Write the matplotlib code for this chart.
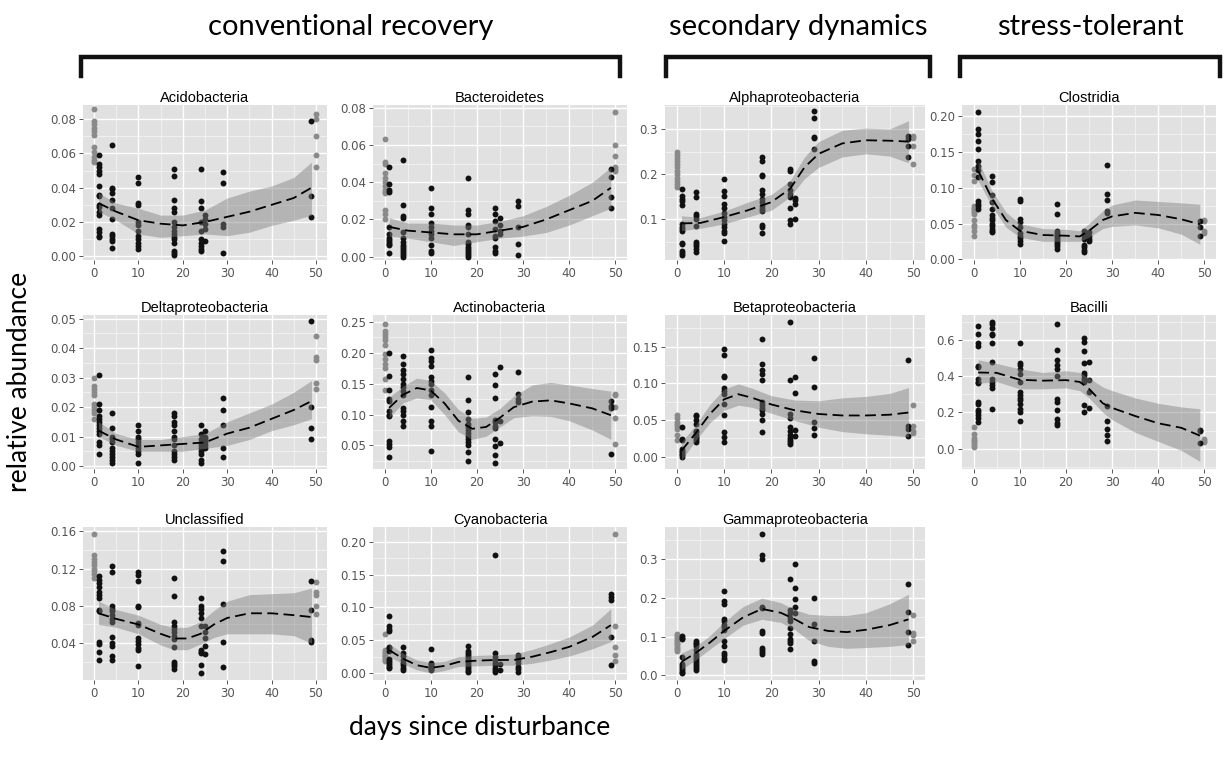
import numpy as np
import matplotlib
matplotlib.use("Agg")
import matplotlib.pyplot as plt
from matplotlib.ticker import MultipleLocator

# sampling days of the black points (day 0 and day 50 are the grey controls)
DAYS = [1, 4, 10, 18, 24, 25, 29, 49]

# ---------------- Acidobacteria ----------------
acido_gray0 = [0.086, 0.079, 0.077, 0.075, 0.073, 0.071, 0.064, 0.061, 0.058, 0.056, 0.055]
acido_gray50 = [0.083, 0.080, 0.070, 0.059, 0.052]
acido_black = [
    [0.059, 0.054, 0.052, 0.050, 0.048, 0.041, 0.036, 0.035, 0.030, 0.029, 0.026, 0.024, 0.016, 0.014, 0.012, 0.011],
    [0.065, 0.040, 0.039, 0.037, 0.033, 0.028, 0.022, 0.013, 0.012, 0.010, 0.009, 0.005],
    [0.046, 0.043, 0.031, 0.030, 0.020, 0.018, 0.015, 0.012, 0.010, 0.008, 0.006, 0.004],
    [0.051, 0.047, 0.033, 0.028, 0.026, 0.020, 0.017, 0.015, 0.013, 0.011, 0.010, 0.008, 0.003, 0.002, 0.001],
    [0.051, 0.032, 0.028, 0.020, 0.015, 0.010, 0.008, 0.006, 0.004, 0.003],
    [0.024, 0.022, 0.019, 0.016, 0.009],
    [0.049, 0.043, 0.019, 0.017, 0.002],
    [0.079, 0.035, 0.023],
]
acido_fit_x = [1, 5, 10, 15, 20, 25, 30, 35, 40, 45, 49]
acido_fit = [0.031, 0.026, 0.021, 0.019, 0.018, 0.020, 0.023, 0.026, 0.030, 0.034, 0.040]
acido_lo = [0.026, 0.021, 0.013, 0.011, 0.012, 0.013, 0.012, 0.014, 0.018, 0.021, 0.024]
acido_hi = [0.037, 0.031, 0.028, 0.024, 0.024, 0.027, 0.034, 0.038, 0.041, 0.046, 0.055]

# ---------------- Bacteroidetes ----------------
bacte_gray0 = [0.063, 0.051, 0.050, 0.045, 0.042, 0.040, 0.038, 0.036, 0.035, 0.034, 0.025, 0.023, 0.020]
bacte_gray50 = [0.078, 0.060, 0.054, 0.048, 0.047, 0.046]
bacte_black = [
    [0.048, 0.039, 0.036, 0.035, 0.016, 0.012, 0.010, 0.009, 0.008, 0.007, 0.006, 0.002],
    [0.052, 0.028, 0.022, 0.021, 0.013, 0.010, 0.008, 0.006, 0.005, 0.004, 0.003, 0.002, 0.001, 0.000],
    [0.037, 0.026, 0.023, 0.018, 0.016, 0.014, 0.012, 0.010, 0.006, 0.003, 0.002],
    [0.042, 0.025, 0.023, 0.017, 0.016, 0.012, 0.008, 0.007, 0.005, 0.004, 0.003, 0.002, 0.001, 0.000],
    [0.026, 0.023, 0.019, 0.015, 0.011, 0.010, 0.005, 0.003, 0.002],
    [0.021, 0.017, 0.014, 0.012],
    [0.030, 0.027, 0.016, 0.007, 0.001],
    [0.047, 0.043, 0.032, 0.026],
]
bacte_fit_x = [1, 5, 10, 15, 20, 25, 30, 35, 40, 45, 49]
bacte_fit = [0.016, 0.014, 0.013, 0.012, 0.012, 0.014, 0.016, 0.020, 0.025, 0.030, 0.037]
bacte_lo = [0.011, 0.010, 0.008, 0.006, 0.008, 0.010, 0.011, 0.013, 0.017, 0.022, 0.026]
bacte_hi = [0.021, 0.018, 0.018, 0.017, 0.017, 0.019, 0.022, 0.027, 0.033, 0.040, 0.048]

# ---------------- Alphaproteobacteria ----------------
alpha_gray0 = [0.248, 0.242, 0.235, 0.228, 0.222, 0.215, 0.208, 0.200, 0.192, 0.185, 0.178, 0.172]
alpha_gray50 = [0.284, 0.280, 0.262, 0.222]
alpha_black = [
    [0.168, 0.152, 0.145, 0.140, 0.132, 0.090, 0.082, 0.078, 0.075, 0.048, 0.045, 0.030, 0.025, 0.021],
    [0.160, 0.150, 0.112, 0.108, 0.100, 0.086, 0.050, 0.045, 0.040, 0.035, 0.028],
    [0.190, 0.162, 0.152, 0.135, 0.125, 0.115, 0.105, 0.098, 0.090, 0.082, 0.075, 0.070, 0.052],
    [0.238, 0.228, 0.198, 0.195, 0.165, 0.155, 0.145, 0.138, 0.130, 0.122, 0.118, 0.088, 0.082, 0.070],
    [0.212, 0.208, 0.178, 0.165, 0.155, 0.150, 0.125, 0.098, 0.090],
    [0.148, 0.142, 0.135, 0.100],
    [0.340, 0.325, 0.283, 0.280, 0.255],
    [0.285, 0.278, 0.262, 0.237],
]
alpha_fit_x = [1, 5, 10, 15, 20, 24, 27, 30, 35, 40, 45, 49]
alpha_fit = [0.091, 0.092, 0.105, 0.120, 0.138, 0.168, 0.215, 0.245, 0.268, 0.275, 0.274, 0.272]
alpha_lo = [0.075, 0.080, 0.090, 0.105, 0.120, 0.150, 0.190, 0.215, 0.238, 0.245, 0.240, 0.225]
alpha_hi = [0.108, 0.104, 0.118, 0.138, 0.155, 0.186, 0.238, 0.272, 0.297, 0.302, 0.300, 0.318]

# ---------------- Clostridia ----------------
clost_gray0 = [0.127, 0.118, 0.110, 0.075, 0.072, 0.070, 0.068, 0.066, 0.063, 0.055, 0.048, 0.045, 0.040, 0.033]
clost_gray50 = [0.055, 0.053, 0.040, 0.037]
clost_black = [
    [0.206, 0.182, 0.175, 0.165, 0.155, 0.137, 0.130, 0.125, 0.115, 0.082, 0.078, 0.075, 0.070],
    [0.116, 0.108, 0.090, 0.080, 0.070, 0.062, 0.058, 0.055, 0.050, 0.047, 0.043, 0.040, 0.038],
    [0.085, 0.081, 0.057, 0.052, 0.045, 0.037, 0.033, 0.030, 0.026, 0.022],
    [0.078, 0.064, 0.040, 0.037, 0.034, 0.032, 0.030, 0.027, 0.024, 0.022, 0.018, 0.015],
    [0.040, 0.036, 0.032, 0.028, 0.020, 0.017, 0.013, 0.010],
    [0.038, 0.032, 0.028, 0.025],
    [0.132, 0.091, 0.083, 0.068, 0.065],
    [0.054, 0.045, 0.032],
]
clost_fit_x = [1, 4, 7, 10, 15, 20, 23, 25, 28, 30, 35, 40, 45, 49]
clost_fit = [0.124, 0.085, 0.055, 0.040, 0.034, 0.033, 0.032, 0.040, 0.055, 0.060, 0.065, 0.062, 0.056, 0.049]
clost_lo = [0.110, 0.074, 0.045, 0.031, 0.025, 0.025, 0.025, 0.031, 0.043, 0.046, 0.048, 0.044, 0.035, 0.021]
clost_hi = [0.138, 0.096, 0.066, 0.050, 0.043, 0.042, 0.040, 0.050, 0.068, 0.076, 0.083, 0.081, 0.079, 0.077]

# ---------------- Deltaproteobacteria ----------------
delta_gray0 = [0.030, 0.027, 0.026, 0.025, 0.024, 0.021, 0.020, 0.019, 0.018, 0.016]
delta_gray50 = [0.044, 0.037, 0.036, 0.028, 0.026]
delta_black = [
    [0.031, 0.021, 0.019, 0.017, 0.016, 0.015, 0.014, 0.013, 0.012, 0.011, 0.008, 0.007, 0.004],
    [0.018, 0.013, 0.010, 0.009, 0.008, 0.006, 0.005, 0.004, 0.003, 0.002, 0.001],
    [0.014, 0.012, 0.010, 0.009, 0.008, 0.007, 0.006, 0.005, 0.004, 0.001],
    [0.018, 0.017, 0.015, 0.014, 0.012, 0.010, 0.009, 0.007, 0.005, 0.004, 0.003, 0.002],
    [0.014, 0.011, 0.009, 0.008, 0.007, 0.006, 0.005, 0.004, 0.002, 0.001],
    [0.012, 0.010, 0.009, 0.008, 0.007, 0.006],
    [0.023, 0.019, 0.014, 0.006, 0.003],
    [0.049, 0.020, 0.013, 0.009],
]
delta_fit_x = [1, 5, 10, 15, 20, 25, 30, 35, 40, 45, 49]
delta_fit = [0.012, 0.009, 0.0065, 0.007, 0.0075, 0.008, 0.011, 0.013, 0.016, 0.019, 0.022]
delta_lo = [0.010, 0.007, 0.005, 0.005, 0.005, 0.006, 0.007, 0.009, 0.012, 0.014, 0.016]
delta_hi = [0.015, 0.011, 0.009, 0.009, 0.010, 0.011, 0.015, 0.018, 0.021, 0.025, 0.029]

# ---------------- Actinobacteria ----------------
actino_gray0 = [0.246, 0.235, 0.230, 0.225, 0.220, 0.212, 0.198, 0.190, 0.182, 0.176, 0.158, 0.140]
actino_gray50 = [0.134, 0.131, 0.113, 0.095, 0.052]
actino_black = [
    [0.200, 0.162, 0.140, 0.125, 0.122, 0.105, 0.100, 0.098, 0.057, 0.053, 0.048, 0.031],
    [0.195, 0.182, 0.172, 0.165, 0.158, 0.150, 0.145, 0.138, 0.132, 0.110, 0.105, 0.100, 0.090, 0.082],
    [0.204, 0.192, 0.186, 0.178, 0.160, 0.155, 0.150, 0.140, 0.132, 0.112, 0.090, 0.082, 0.041],
    [0.161, 0.124, 0.104, 0.093, 0.085, 0.080, 0.075, 0.070, 0.065, 0.060, 0.055, 0.050, 0.039, 0.025],
    [0.166, 0.148, 0.126, 0.092, 0.088, 0.082, 0.078, 0.060, 0.049, 0.035, 0.022],
    [0.177, 0.090, 0.054],
    [0.169, 0.134, 0.125, 0.120],
    [0.122, 0.114, 0.110, 0.037],
]
actino_fit_x = [1, 4, 7, 10, 13, 16, 19, 22, 25, 28, 32, 36, 40, 45, 49]
actino_fit = [0.111, 0.132, 0.143, 0.139, 0.118, 0.090, 0.077, 0.080, 0.095, 0.112, 0.121, 0.123, 0.118, 0.110, 0.099]
actino_lo = [0.095, 0.119, 0.127, 0.124, 0.100, 0.072, 0.060, 0.065, 0.080, 0.095, 0.098, 0.097, 0.090, 0.075, 0.060]
actino_hi = [0.128, 0.146, 0.159, 0.155, 0.135, 0.108, 0.094, 0.096, 0.110, 0.130, 0.148, 0.152, 0.148, 0.142, 0.138]

# ---------------- Betaproteobacteria ----------------
beta_gray0 = [0.056, 0.052, 0.047, 0.044, 0.041, 0.038, 0.030, 0.022]
beta_gray50 = [0.070, 0.041, 0.035, 0.032]
beta_black = [
    [0.040, 0.024, 0.022, 0.010, 0.008, 0.006, 0.004, 0.002, 0.000],
    [0.057, 0.055, 0.050, 0.045, 0.035, 0.033, 0.030, 0.027, 0.025, 0.022, 0.020],
    [0.147, 0.138, 0.110, 0.108, 0.093, 0.090, 0.085, 0.072, 0.057, 0.034, 0.026, 0.020],
    [0.160, 0.126, 0.118, 0.113, 0.105, 0.075, 0.070, 0.066, 0.063, 0.058, 0.050, 0.033],
    [0.184, 0.104, 0.058, 0.052, 0.040, 0.035, 0.030, 0.025, 0.022, 0.020, 0.017],
    [0.108, 0.086, 0.036, 0.028],
    [0.135, 0.095, 0.047, 0.039, 0.029],
    [0.132, 0.042, 0.038, 0.028],
]
beta_fit_x = [1, 4, 7, 10, 13, 16, 20, 25, 30, 35, 40, 45, 49]
beta_fit = [0.008, 0.032, 0.058, 0.078, 0.085, 0.080, 0.071, 0.063, 0.058, 0.056, 0.056, 0.057, 0.060]
beta_lo = [-0.005, 0.022, 0.046, 0.063, 0.070, 0.067, 0.059, 0.049, 0.040, 0.034, 0.031, 0.029, 0.027]
beta_hi = [0.020, 0.043, 0.071, 0.092, 0.099, 0.093, 0.083, 0.077, 0.076, 0.080, 0.082, 0.086, 0.094]

# ---------------- Bacilli ----------------
bacil_gray0 = [0.12, 0.08, 0.06, 0.05, 0.04, 0.03, 0.02, 0.01]
bacil_gray50 = [0.055, 0.045, 0.035]
bacil_black = [
    [0.675, 0.635, 0.585, 0.565, 0.455, 0.450, 0.385, 0.370, 0.360, 0.260, 0.245, 0.215, 0.200, 0.185, 0.170, 0.145],
    [0.700, 0.685, 0.665, 0.635, 0.625, 0.580, 0.480, 0.385, 0.370, 0.350, 0.335, 0.220],
    [0.585, 0.475, 0.460, 0.440, 0.410, 0.370, 0.310, 0.295, 0.280, 0.270, 0.245, 0.220, 0.200, 0.150],
    [0.685, 0.545, 0.490, 0.460, 0.440, 0.400, 0.275, 0.260, 0.215, 0.165, 0.140, 0.130],
    [0.610, 0.590, 0.540, 0.470, 0.420, 0.405, 0.390, 0.380, 0.370, 0.240, 0.200],
    [0.480, 0.380, 0.310, 0.225],
    [0.235, 0.150, 0.110, 0.075, 0.040],
    [0.105, 0.095, 0.030],
]
bacil_fit_x = [1, 5, 10, 15, 20, 23, 25, 28, 30, 35, 40, 45, 49]
bacil_fit = [0.420, 0.418, 0.380, 0.375, 0.378, 0.368, 0.330, 0.250, 0.225, 0.180, 0.140, 0.115, 0.072]
bacil_lo = [0.360, 0.370, 0.330, 0.330, 0.335, 0.320, 0.280, 0.200, 0.160, 0.090, 0.040, -0.010, -0.070]
bacil_hi = [0.490, 0.470, 0.440, 0.420, 0.430, 0.420, 0.390, 0.340, 0.320, 0.280, 0.250, 0.230, 0.220]

# ---------------- Unclassified ----------------
uncl_gray0 = [0.157, 0.134, 0.130, 0.127, 0.124, 0.120, 0.117, 0.114, 0.110]
uncl_gray50 = [0.106, 0.095, 0.092, 0.080, 0.071]
uncl_black = [
    [0.112, 0.108, 0.104, 0.100, 0.095, 0.092, 0.088, 0.075, 0.074, 0.041, 0.039, 0.031, 0.022],
    [0.123, 0.116, 0.080, 0.077, 0.074, 0.070, 0.066, 0.063, 0.047, 0.040, 0.037, 0.026, 0.022],
    [0.116, 0.113, 0.107, 0.080, 0.079, 0.062, 0.059, 0.046, 0.042, 0.039, 0.035, 0.033, 0.015],
    [0.110, 0.091, 0.063, 0.058, 0.055, 0.052, 0.048, 0.044, 0.036, 0.020, 0.018, 0.016, 0.012],
    [0.088, 0.080, 0.077, 0.072, 0.067, 0.058, 0.033, 0.031, 0.029, 0.017, 0.008],
    [0.058, 0.052, 0.046, 0.037, 0.028],
    [0.139, 0.128, 0.082, 0.041, 0.014],
    [0.107, 0.075, 0.043, 0.041],
]
uncl_fit_x = [1, 5, 10, 15, 18, 21, 24, 27, 30, 35, 40, 45, 49]
uncl_fit = [0.072, 0.066, 0.060, 0.050, 0.045, 0.045, 0.050, 0.060, 0.067, 0.072, 0.072, 0.070, 0.068]
uncl_lo = [0.060, 0.057, 0.050, 0.038, 0.033, 0.033, 0.039, 0.046, 0.050, 0.050, 0.050, 0.048, 0.040]
uncl_hi = [0.085, 0.076, 0.070, 0.060, 0.057, 0.057, 0.063, 0.075, 0.085, 0.092, 0.093, 0.094, 0.099]

# ---------------- Cyanobacteria ----------------
cyano_gray0 = [0.060, 0.035, 0.032, 0.030, 0.028, 0.026, 0.024, 0.022, 0.020, 0.018]
cyano_gray50 = [0.212, 0.071, 0.040, 0.028, 0.018]
cyano_black = [
    [0.087, 0.071, 0.067, 0.064, 0.040, 0.038, 0.034, 0.022, 0.019, 0.016, 0.013, 0.010, 0.008],
    [0.040, 0.030, 0.026, 0.020, 0.016, 0.012, 0.008, 0.005],
    [0.036, 0.016, 0.014, 0.012, 0.010, 0.008, 0.006, 0.004],
    [0.042, 0.034, 0.030, 0.027, 0.024, 0.021, 0.018, 0.015, 0.012, 0.009, 0.006, 0.003, 0.001],
    [0.180, 0.030, 0.025, 0.020, 0.016, 0.012, 0.008, 0.005, 0.002],
    [0.014, 0.005],
    [0.028, 0.024, 0.020, 0.016, 0.010, 0.006, 0.002],
    [0.120, 0.116, 0.112, 0.055, 0.012],
]
cyano_fit_x = [1, 4, 7, 10, 13, 16, 20, 24, 28, 32, 36, 40, 45, 49]
cyano_fit = [0.035, 0.022, 0.012, 0.008, 0.011, 0.017, 0.019, 0.020, 0.020, 0.025, 0.032, 0.040, 0.055, 0.073]
cyano_lo = [0.025, 0.014, 0.005, 0.000, 0.004, 0.010, 0.011, 0.012, 0.012, 0.015, 0.020, 0.026, 0.037, 0.048]
cyano_hi = [0.045, 0.030, 0.020, 0.016, 0.018, 0.025, 0.027, 0.028, 0.029, 0.036, 0.045, 0.055, 0.073, 0.098]

# ---------------- Gammaproteobacteria ----------------
gamma_gray0 = [0.108, 0.104, 0.100, 0.096, 0.092, 0.088, 0.084, 0.080, 0.076, 0.072, 0.068, 0.064]
gamma_gray50 = [0.155, 0.110, 0.105, 0.088]
gamma_black = [
    [0.102, 0.098, 0.095, 0.048, 0.030, 0.025, 0.020, 0.015, 0.010, 0.006],
    [0.090, 0.085, 0.080, 0.075, 0.065, 0.055, 0.050, 0.045, 0.040, 0.035, 0.030, 0.025, 0.020, 0.015],
    [0.218, 0.192, 0.185, 0.145, 0.140, 0.130, 0.125, 0.118, 0.090, 0.075, 0.057, 0.052, 0.045, 0.040],
    [0.365, 0.312, 0.300, 0.178, 0.175, 0.115, 0.110, 0.072, 0.065, 0.060, 0.055],
    [0.250, 0.168, 0.162, 0.148, 0.142, 0.122, 0.108, 0.095, 0.090, 0.085, 0.068],
    [0.288, 0.227, 0.197, 0.178, 0.162],
    [0.201, 0.133, 0.090, 0.037, 0.033],
    [0.236, 0.165, 0.113, 0.078],
]
gamma_fit_x = [1, 4, 7, 10, 14, 18, 22, 25, 28, 32, 36, 40, 45, 49]
gamma_fit = [0.035, 0.058, 0.085, 0.115, 0.150, 0.172, 0.162, 0.145, 0.125, 0.115, 0.112, 0.118, 0.130, 0.145]
gamma_lo = [0.015, 0.040, 0.068, 0.095, 0.130, 0.145, 0.137, 0.118, 0.090, 0.075, 0.070, 0.072, 0.075, 0.080]
gamma_hi = [0.058, 0.075, 0.103, 0.138, 0.178, 0.200, 0.188, 0.170, 0.158, 0.155, 0.155, 0.162, 0.185, 0.210]


W, H = 1226, 758
COLS = [(83, 327), (373, 627), (665, 925), (962, 1216)]
ROWS = [(105, 260), (315, 469), (527, 680)]

panels = [
    # title, row, col, gray0, gray50, black, fit_x, fit, lo, hi, ylim, yticks, fmt
    ("Acidobacteria", 0, 0, acido_gray0, acido_gray50, acido_black, acido_fit_x, acido_fit, acido_lo, acido_hi,
     (-0.0022, 0.0883), [0, 0.02, 0.04, 0.06, 0.08], "%.2f"),
    ("Bacteroidetes", 0, 1, bacte_gray0, bacte_gray50, bacte_black, bacte_fit_x, bacte_fit, bacte_lo, bacte_hi,
     (-0.0018, 0.0815), [0, 0.02, 0.04, 0.06, 0.08], "%.2f"),
    ("Alphaproteobacteria", 0, 2, alpha_gray0, alpha_gray50, alpha_black, alpha_fit_x, alpha_fit, alpha_lo, alpha_hi,
     (0.010, 0.353), [0.1, 0.2, 0.3], "%.1f"),
    ("Clostridia", 0, 3, clost_gray0, clost_gray50, clost_black, clost_fit_x, clost_fit, clost_lo, clost_hi,
     (-0.001, 0.216), [0, 0.05, 0.10, 0.15, 0.20], "%.2f"),
    ("Deltaproteobacteria", 1, 0, delta_gray0, delta_gray50, delta_black, delta_fit_x, delta_fit, delta_lo, delta_hi,
     (-0.001, 0.0512), [0, 0.01, 0.02, 0.03, 0.04, 0.05], "%.2f"),
    ("Actinobacteria", 1, 1, actino_gray0, actino_gray50, actino_black, actino_fit_x, actino_fit, actino_lo, actino_hi,
     (0.012, 0.261), [0.05, 0.10, 0.15, 0.20, 0.25], "%.2f"),
    ("Betaproteobacteria", 1, 2, beta_gray0, beta_gray50, beta_black, beta_fit_x, beta_fit, beta_lo, beta_hi,
     (-0.017, 0.193), [0, 0.05, 0.10, 0.15], "%.2f"),
    ("Bacilli", 1, 3, bacil_gray0, bacil_gray50, bacil_black, bacil_fit_x, bacil_fit, bacil_lo, bacil_hi,
     (-0.112, 0.737), [0, 0.2, 0.4, 0.6], "%.1f"),
    ("Unclassified", 2, 0, uncl_gray0, uncl_gray50, uncl_black, uncl_fit_x, uncl_fit, uncl_lo, uncl_hi,
     (0.0005, 0.1645), [0.04, 0.08, 0.12, 0.16], "%.2f"),
    ("Cyanobacteria", 2, 1, cyano_gray0, cyano_gray50, cyano_black, cyano_fit_x, cyano_fit, cyano_lo, cyano_hi,
     (-0.0105, 0.2225), [0, 0.05, 0.10, 0.15, 0.20], "%.2f"),
    ("Gammaproteobacteria", 2, 2, gamma_gray0, gamma_gray50, gamma_black, gamma_fit_x, gamma_fit, gamma_lo, gamma_hi,
     (-0.012, 0.384), [0, 0.1, 0.2, 0.3], "%.1f"),
]

fig = plt.figure(figsize=(W / 100, H / 100), dpi=100)
fig.patch.set_facecolor("white")

for (title, r, c, g0, g50, blk, fx, fy, flo, fhi, ylim, yticks, fmt) in panels:
    x0, x1 = COLS[c]
    y0, y1 = ROWS[r]
    ax = fig.add_axes([x0 / W, 1 - y1 / H, (x1 - x0) / W, (y1 - y0) / H])
    ax.set_facecolor("#e1e1e1")
    for s in ax.spines.values():
        s.set_visible(False)
    ax.set_xlim(-2.5, 52.5)
    ax.set_ylim(*ylim)
    ax.set_xticks([0, 10, 20, 30, 40, 50])
    ax.xaxis.set_minor_locator(MultipleLocator(5))
    ax.set_yticks(yticks)
    ystep = yticks[1] - yticks[0]
    ax.yaxis.set_minor_locator(MultipleLocator(ystep / 2))
    ax.yaxis.set_major_formatter(matplotlib.ticker.FormatStrFormatter(fmt))
    ax.grid(which="major", color="white", linewidth=1.0)
    ax.grid(which="minor", color="white", linewidth=0.5, alpha=0.7)
    ax.set_axisbelow(True)
    ax.tick_params(which="major", length=3, width=0.7, color="#555555", labelsize=8.5,
                   labelcolor="#555555", pad=2)
    ax.tick_params(which="minor", length=0)

    # grey controls
    ax.scatter([0] * len(g0), g0, s=18, color="#8a8a8a", zorder=3, linewidths=0)
    ax.scatter([50] * len(g50), g50, s=18, color="#8a8a8a", zorder=3, linewidths=0)
    # black samples
    for d, vals in zip(DAYS, blk):
        ax.scatter([d] * len(vals), vals, s=18, color="#111111", zorder=3, linewidths=0)

    ax.fill_between(fx, flo, fhi, color="#7f7f7f", alpha=0.45, linewidth=0, zorder=4)
    ax.plot(fx, fy, color="black", linestyle=(0, (6, 3)), linewidth=1.3, zorder=5)
    ax.set_title(title, fontsize=10.5, pad=2, family="Liberation Sans")

# group headers and brackets
groups = [("conventional recovery", 81, 620), ("secondary dynamics", 666, 930), ("stress-tolerant", 960, 1220)]
for label, gx0, gx1 in groups:
    fig.text((gx0 + gx1) / 2 / W, 1 - 27 / H, label, ha="center", va="center",
             fontsize=21, family="Lato")
    fig.add_artist(plt.Line2D([gx0 / W, gx0 / W, gx1 / W, gx1 / W],
                              [1 - 76 / H, 1 - 57 / H, 1 - 57 / H, 1 - 76 / H],
                              color="#111111", linewidth=3.2, solid_joinstyle="miter"))

fig.text(20 / W, 1 - 382 / H, "relative abundance", rotation=90, ha="center", va="center",
         fontsize=19, family="Lato")
fig.text(480 / W, 1 - 728 / H, "days since disturbance", ha="center", va="center",
         fontsize=19, family="Lato")

fig.savefig("out.png", dpi=100)
